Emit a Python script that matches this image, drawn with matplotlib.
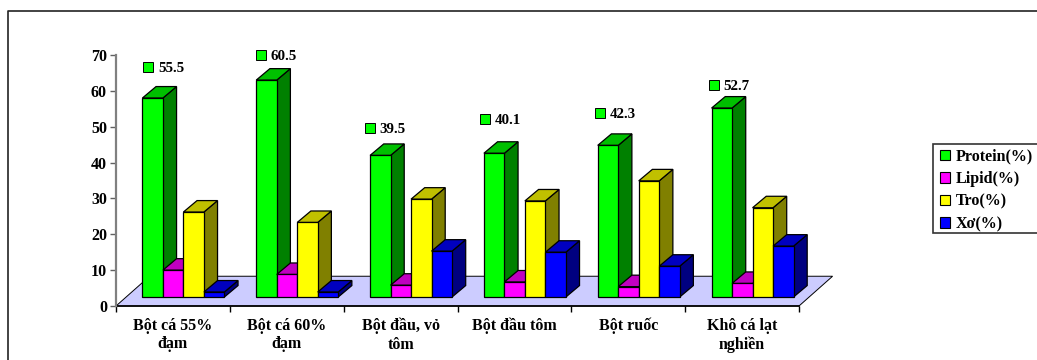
import matplotlib
matplotlib.use("Agg")
import matplotlib.pyplot as plt
from matplotlib.lines import Line2D
from matplotlib.patches import Patch, Rectangle

categories = ["Bột cá 55%\nđạm", "Bột cá 60%\nđạm", "Bột đầu, vỏ\ntôm", "Bột đầu tôm", "Bột ruốc", "Khô cá lạt\nnghiền"]
protein = [55.5, 60.5, 39.5, 40.1, 42.3, 52.7]
lipid = [7.5, 6.3, 3.3, 4.2, 2.9, 3.8]
tro = [23.7, 20.8, 27.3, 26.8, 32.4, 24.9]
xo = [1.4, 1.4, 12.8, 12.5, 8.6, 14.2]
y_ticks = [0, 10, 20, 30, 40, 50, 60, 70]

# where the data labels sit, they do not follow the bars exactly
label_x = [0.28, 1.27, 2.23, 3.24, 4.25, 5.25]
label_y = [66.6, 70.0, 49.6, 52.1, 53.8, 61.7]

series = [
    ("Protein(%)", protein, "#00FF00", "#008000", "#00C000"),
    ("Lipid(%)", lipid, "#FF00FF", "#800080", "#C000C0"),
    ("Tro(%)", tro, "#FFFF00", "#808000", "#C0C000"),
    ("Xơ(%)", xo, "#0000FF", "#000080", "#0000C0"),
]

plt.rcParams["font.family"] = "Liberation Serif"
plt.rcParams["font.weight"] = "bold"
plt.rcParams["font.size"] = 11.5

W, H = 1037, 360
fig = plt.figure(figsize=(W / 100, H / 100), dpi=100)
ax = fig.add_axes([116 / W, (H - 306) / H, 683 / W, 251 / H])
ax.set_xlim(0, 6)
ax.set_ylim(0, 70)

# outer frame, only left and top show
fig.add_artist(Line2D([8 / W, 8 / W, 1], [0, 1 - 11 / H, 1 - 11 / H], color="#222222", lw=1.2))

# floor
floor_dx, floor_dy = 0.295, 8.3
ax.fill(
    [0, 6, 6 + floor_dx, floor_dx],
    [0, 0, floor_dy, floor_dy],
    facecolor="#CCCCFF",
    edgecolor="black",
    lw=0.7,
    clip_on=False,
    zorder=1,
)

# fake 3d bars, drawn left to right so each one covers the side of the last
base = 2.5
width = 0.18
start = 0.232
dx, dy = 0.12, 3.2
z = 2
for i in range(len(categories)):
    for j, (name, values, front, side, top) in enumerate(series):
        x0 = i + start + j * width
        x1 = x0 + width
        y1 = base + values[i]
        ax.fill(
            [x1, x1 + dx, x1 + dx, x1],
            [base, base + dy, y1 + dy, y1],
            facecolor=side, edgecolor="black", lw=0.9, clip_on=False, zorder=z,
        )
        ax.fill(
            [x0, x1, x1 + dx, x0 + dx],
            [y1, y1, y1 + dy, y1 + dy],
            facecolor=top, edgecolor="black", lw=0.9, clip_on=False, zorder=z,
        )
        ax.bar(
            x0, values[i], width, bottom=base, align="edge",
            color=front, edgecolor="black", lw=0.9, clip_on=False, zorder=z + 1,
        )
        z += 2

# data labels of the protein series
for i, v in enumerate(protein):
    ax.plot(
        label_x[i], label_y[i], "s", ms=7, mfc="#00FF00", mec="black", mew=0.7,
        clip_on=False, zorder=z,
    )
    ax.annotate(
        str(v), (label_x[i], label_y[i]), xytext=(7.2, -1), textcoords="offset points",
        va="center", ha="left", fontsize=10.8, annotation_clip=False, zorder=z,
    )

for s in ["top", "right"]:
    ax.spines[s].set_visible(False)
ax.spines["left"].set_color("#808080")
ax.spines["left"].set_linewidth(1.6)
ax.spines["bottom"].set_linewidth(1.2)
ax.spines["bottom"].set_zorder(1.5)

ax.set_yticks(y_ticks)
ax.set_xticks(range(7))
ax.set_xticklabels([])
ax.set_xticks([i + 0.5 for i in range(6)], minor=True)
ax.set_xticklabels(categories, minor=True, linespacing=1.2)
ax.tick_params(axis="x", which="minor", length=0, pad=8.5)
ax.tick_params(axis="x", which="major", length=4, width=1)
ax.tick_params(axis="y", length=4.5, width=1, pad=2, labelsize=11.5, color="#606060")

# legend box runs off the right edge of the picture
fig.add_artist(
    Rectangle(
        (933 / W, 1 - 233 / H), 120 / W, 89 / H, transform=fig.transFigure,
        facecolor="white", edgecolor="#333333", lw=1.2,
    )
)
handles = [Patch(facecolor=s[2], edgecolor="black", lw=0.8) for s in series]
fig.legend(
    handles,
    [s[0] for s in series],
    loc="upper left",
    bbox_to_anchor=(940 / W, 1 - 148.5 / H),
    bbox_transform=fig.transFigure,
    borderaxespad=0,
    borderpad=0,
    fontsize=11.5,
    handlelength=0.62,
    handleheight=0.62,
    handletextpad=0.35,
    labelspacing=0.41,
    frameon=False,
)

fig.savefig("out.png", dpi=100)
